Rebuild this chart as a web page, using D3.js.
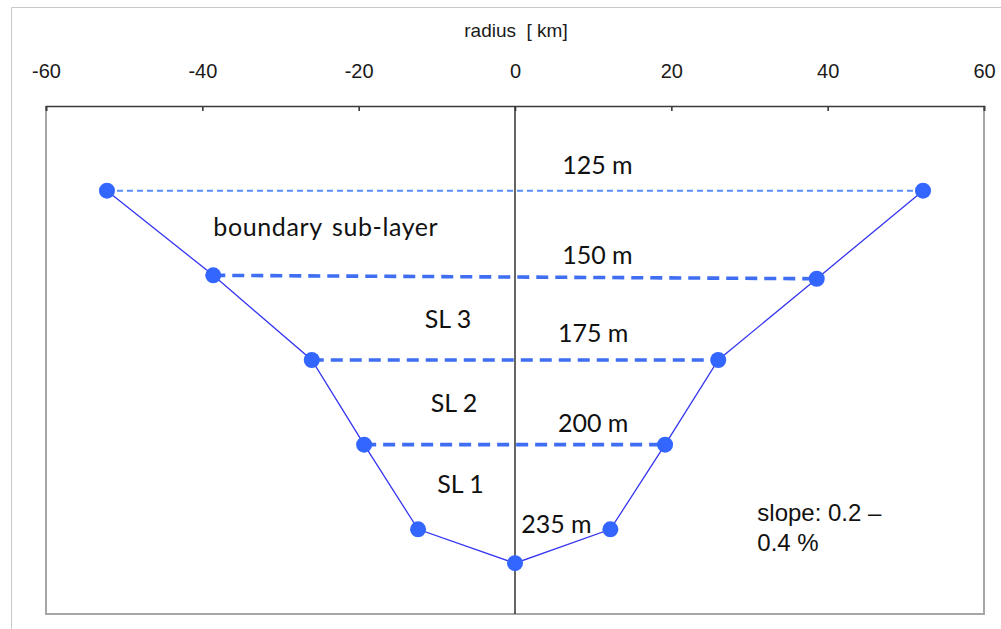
<!DOCTYPE html>
<html>
<head>
<meta charset="utf-8">
<script src="https://cdn.jsdelivr.net/npm/d3@7"></script>
<style>
  html, body { margin: 0; padding: 0; background: #fff; }
  svg { display: block; }
</style>
</head>
<body>
<script>
// Cross-section profile: radius (km) against depth (m)
const radius = [-52.2, -38.6, -26.0, -19.3, -12.4, 0, 12.2, 19.2, 26.0, 38.6, 52.2];
const depth  = [125, 150, 175, 200, 225, 235, 225, 200, 175, 151, 125];

// Horizontal layer boundaries: index pairs of the points they join
const levelNames = ["125 m", "150 m", "175 m", "200 m"];
const levelLeft  = [0, 1, 2, 3];
const levelRight = [10, 9, 8, 7];

const xTicks = [-60, -40, -20, 0, 20, 40, 60];

// Text annotations, placed in data units (radius, depth)
const noteText  = ["125 m", "boundary sub-layer", "150 m", "SL 3", "175 m", "SL 2", "200 m", "SL 1", "235 m"];
const noteX     = [10.55, -24.2, 10.55, -8.57, 10.0, -7.8, 10.0, -6.97, 5.3];
const noteDepth = [120.1, 138.4, 146.6, 165.5, 169.7, 190.3, 196.3, 214.2, 226.1];

const slopeLines = ["slope: 0.2 \u2013", "0.4 %"];
const slopeX = 31.0;
const slopeDepth = [222.6, 231.3];

const W = 1001, H = 629;
const plot = { left: 46, right: 984, top: 106, bottom: 614 };

const x = d3.scaleLinear().domain([-60, 60]).range([plot.left, plot.right]);
const y = d3.scaleLinear().domain([100, 250]).range([plot.top, plot.bottom]);

const svg = d3.select("body").append("svg")
  .attr("width", W).attr("height", H);

// outer chart border
svg.append("path")
  .attr("d", `M11.5,${H} V7.5 H${W}`)
  .attr("fill", "none").attr("stroke", "#c8c8c8").attr("stroke-width", 1);

// plot frame: sides and bottom
svg.append("path")
  .attr("d", `M${plot.left},${plot.top} V${plot.bottom} H${plot.right} V${plot.top}`)
  .attr("fill", "none").attr("stroke", "#a6a6a6").attr("stroke-width", 2);

// top axis
const axis = d3.axisTop(x).tickValues(xTicks).tickSize(-5).tickPadding(28)
  .tickFormat(d3.format("d"));
const gAxis = svg.append("g")
  .attr("transform", `translate(0,${plot.top})`)
  .call(axis);
gAxis.select(".domain").attr("stroke", "#3a3a3a").attr("stroke-width", 1.6);
gAxis.selectAll(".tick line").attr("stroke", "#3a3a3a").attr("stroke-width", 1.6);
gAxis.selectAll(".tick text")
  .attr("font-family", "'Liberation Sans', Arial, sans-serif")
  .attr("font-size", 20).attr("fill", "#1a1a1a")
  .text(d => d < 0 ? "-" + Math.abs(d) : d);

svg.append("text")
  .attr("x", x(0) + 1).attr("y", 37)
  .attr("text-anchor", "middle")
  .attr("font-family", "'Liberation Sans', Arial, sans-serif")
  .attr("font-size", 19).attr("fill", "#1a1a1a")
  .attr("xml:space", "preserve")
  .text("radius  [ km]");

// centre line at radius 0
svg.append("line")
  .attr("x1", x(0)).attr("x2", x(0))
  .attr("y1", plot.top).attr("y2", plot.bottom)
  .attr("stroke", "#333").attr("stroke-width", 1.5);

// layer boundaries
const levels = svg.append("g");
levelLeft.forEach((li, k) => {
  const ri = levelRight[k];
  const top = k === 0;
  levels.append("line")
    .attr("x1", x(radius[li])).attr("y1", y(depth[li]))
    .attr("x2", x(radius[ri])).attr("y2", y(depth[ri]))
    .attr("stroke", top ? "#5b8cff" : "#3f6ef2")
    .attr("stroke-width", top ? 2 : 3.6)
    .attr("stroke-dasharray", top ? "6,4" : "12,7");
});

// profile line
const pts = radius.map((r, i) => [r, depth[i]]);
svg.append("path")
  .datum(pts)
  .attr("d", d3.line().x(d => x(d[0])).y(d => y(d[1])))
  .attr("fill", "none").attr("stroke", "#3535f0").attr("stroke-width", 1.3);

svg.append("g").selectAll("circle")
  .data(pts).join("circle")
  .attr("cx", d => x(d[0])).attr("cy", d => y(d[1]))
  .attr("r", 8).attr("fill", "#3366ff");

// annotations
svg.append("g").selectAll("text")
  .data(noteText).join("text")
  .attr("x", (d, i) => x(noteX[i])).attr("y", (d, i) => y(noteDepth[i]))
  .attr("text-anchor", "middle")
  .attr("font-family", "Lato, 'Open Sans', sans-serif")
  .attr("font-size", 25).attr("fill", "#111")
  .attr("word-spacing", (d) => d.length > 10 ? 3 : 0)
  .attr("letter-spacing", (d) => d.length > 10 ? 0.6 : 0)
  .text(d => d);

svg.append("g").selectAll("text")
  .data(slopeLines).join("text")
  .attr("x", x(slopeX)).attr("y", (d, i) => y(slopeDepth[i]))
  .attr("font-family", "'Liberation Sans', Arial, sans-serif")
  .attr("font-size", 24).attr("fill", "#111")
  .text(d => d);
</script>
</body>
</html>
